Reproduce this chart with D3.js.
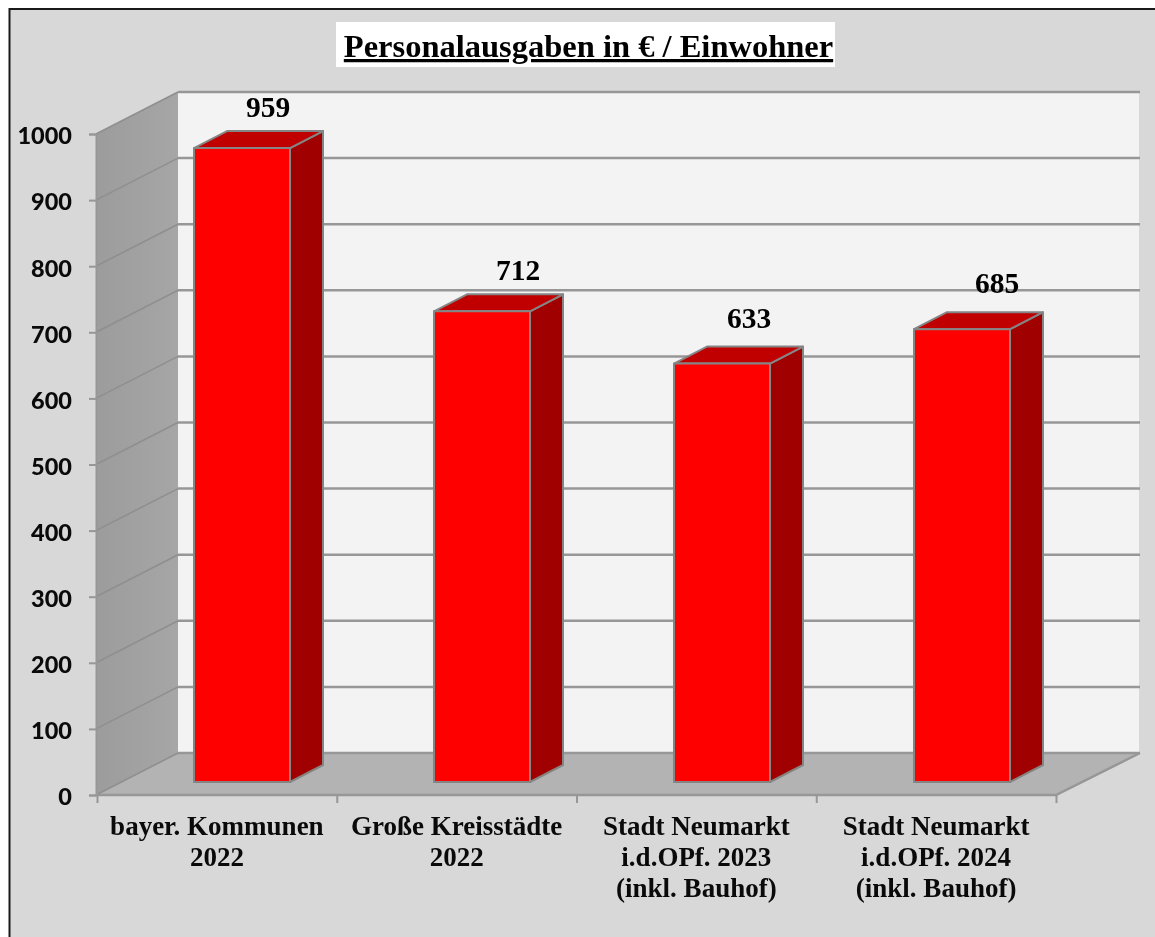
<!DOCTYPE html>
<html><head><meta charset="utf-8">
<script src="https://cdn.jsdelivr.net/npm/d3@7/dist/d3.min.js"></script>
<style>html,body{margin:0;padding:0;background:#fff}svg{display:block;filter:blur(0.45px)}</style>
</head><body><svg id="c" width="1155" height="937"></svg>
<script>
const titleText = "Personalausgaben in € / Einwohner";
const categories = [
  ["bayer. Kommunen","2022"],
  ["Große Kreisstädte","2022"],
  ["Stadt Neumarkt","i.d.OPf. 2023","(inkl. Bauhof)"],
  ["Stadt Neumarkt","i.d.OPf. 2024","(inkl. Bauhof)"]
];
const values = [959,712,633,685];
const yTicks = [0,100,200,300,400,500,600,700,800,900,1000];

const W=1155,H=937;
const L={x0:97,x1:1056,y0:795,y1:134,dx:82,dxRight:84,dy:-42,barLift:13,barShift:24,barW:96,sideDx:33,sideDy:-17};
const labelNudge=[[26,-31],[36,-31],[27,-36],[35,-36]];
const GRID="#979797",EDGE="#858585";
const svg=d3.select("#c");

const y=d3.scaleLinear().domain([0,1000]).range([L.y0,L.y1]);
const xEdge=d3.scaleLinear().domain([0,categories.length]).range([L.x0,L.x1]);
const x=d3.scaleBand().domain(d3.range(categories.length)).range([L.x0,L.x1]);
const xBar=d3.scaleBand().domain(d3.range(categories.length)).range([L.x0+1,L.x1+2]);

// frame
svg.append("rect").attr("x",9.5).attr("y",9).attr("width",W).attr("height",H).attr("fill","#d8d8d8").attr("stroke","#1a1a1a").attr("stroke-width",2);

const path=d3.line();
const bx=L.x0+L.dx-1, brx=L.x1+L.dxRight;
// back wall
svg.append("path").attr("fill","#f3f3f3").attr("d",path([[bx,y(1000)+L.dy],[brx-1,y(1000)+L.dy],[brx-1,y(0)+L.dy],[bx,y(0)+L.dy]])+"Z");
// side wall
const defs=svg.append("defs");
const g=defs.append("linearGradient").attr("id","wall").attr("x1",0).attr("x2",1).attr("y1",0).attr("y2",0);
g.append("stop").attr("offset",0).attr("stop-color","#9c9c9c");
g.append("stop").attr("offset",1).attr("stop-color","#a6a6a6");
svg.append("path").attr("fill","url(#wall)").attr("d",path([[L.x0-1,y(1000)],[bx,y(1000)+L.dy],[bx,y(0)+L.dy],[L.x0-1,y(0)]])+"Z");
// floor
svg.append("path").attr("fill","#b3b3b3").attr("d",path([[L.x0-1,y(0)],[bx,y(0)+L.dy],[brx,y(0)+L.dy],[L.x1,y(0)]])+"Z");

// grid lines
svg.append("g").selectAll("path").data(yTicks).join("path")
  .attr("fill","none").attr("stroke",GRID).attr("stroke-width",2.5)
  .attr("d",d=>path([[bx,y(d)+L.dy],[brx,y(d)+L.dy]]));
svg.append("g").selectAll("line").data(yTicks).join("line")
  .attr("x1",L.x0-1).attr("x2",bx).attr("y1",d=>y(d)).attr("y2",d=>y(d)+L.dy)
  .attr("stroke","#8f8f8f").attr("stroke-width",1.6);
// floor front and right edge
svg.append("path").attr("fill","none").attr("stroke",GRID).attr("stroke-width",2.5)
  .attr("d",path([[L.x0-1,y(0)],[L.x1,y(0)],[brx,y(0)+L.dy]]));

// axes
const ax=svg.append("g").attr("transform",`translate(${L.x0-1},0)`)
  .call(d3.axisLeft(y).tickValues(yTicks).tickSize(7).tickPadding(17).tickFormat(d3.format("d")));
ax.select(".domain").attr("stroke",GRID).attr("stroke-width",2);
ax.selectAll(".tick line").attr("stroke",GRID).attr("stroke-width",2);
ax.selectAll("text").attr("font-family","Lato").attr("font-weight",900).attr("font-size",23.5).attr("fill","#0a0a0a").attr("dy","0.42em");

const bax=svg.append("g").attr("transform",`translate(0,${L.y0})`)
  .call(d3.axisBottom(xEdge).tickValues(d3.range(categories.length+1)).tickSize(8).tickFormat(""));
bax.select(".domain").remove();
bax.selectAll(".tick line").attr("stroke",GRID).attr("stroke-width",2);

// category labels
const cat=svg.append("g").selectAll("text").data(categories).join("text")
  .attr("text-anchor","middle").attr("font-family","Liberation Serif").attr("font-weight",700).attr("font-size",27).attr("fill","#0a0a0a");
cat.selectAll("tspan").data((d,i)=>d.map(t=>({t,i}))).join("tspan")
  .attr("x",d=>x(d.i)+x.bandwidth()/2).attr("y",(d,j)=>835+j*31).text(d=>d.t);

// bars
const barL=i=>xBar(i)+xBar.bandwidth()/2+L.barShift-L.barW/2;
const barTop=v=>y(v)-L.barLift, barBot=y(0)-L.barLift;
const bars=svg.append("g").selectAll("g").data(values).join("g")
  .attr("stroke",EDGE).attr("stroke-width",2).attr("stroke-linejoin","round");
bars.append("path").attr("fill","#a00000").attr("d",(v,i)=>{const r=barL(i)+L.barW;return path([[r,barTop(v)],[r+L.sideDx,barTop(v)+L.sideDy],[r+L.sideDx,barBot+L.sideDy],[r,barBot]])+"Z";});
bars.append("path").attr("fill","#c00000").attr("d",(v,i)=>{const l=barL(i),r=l+L.barW;return path([[l,barTop(v)],[l+L.sideDx,barTop(v)+L.sideDy],[r+L.sideDx,barTop(v)+L.sideDy],[r,barTop(v)]])+"Z";});
bars.append("path").attr("fill","#ff0000").attr("d",(v,i)=>{const l=barL(i),r=l+L.barW;return path([[l,barTop(v)],[r,barTop(v)],[r,barBot],[l,barBot]])+"Z";});

// value labels
svg.append("g").selectAll("text").data(values).join("text")
  .attr("x",(v,i)=>barL(i)+L.barW/2+labelNudge[i][0]).attr("y",(v,i)=>barTop(v)+labelNudge[i][1])
  .attr("text-anchor","middle").attr("font-family","Liberation Serif").attr("font-weight",700).attr("font-size",29.5).attr("fill","#000").text(v=>v);

// title
svg.append("rect").attr("x",336).attr("y",22).attr("width",499).attr("height",45).attr("fill","#fff");
svg.append("text").attr("x",588.5).attr("y",57).attr("text-anchor","middle").attr("font-family","Liberation Serif").attr("font-weight",700).attr("font-size",32.5).attr("text-decoration","underline").attr("fill","#000").text(titleText);
</script></body></html>
